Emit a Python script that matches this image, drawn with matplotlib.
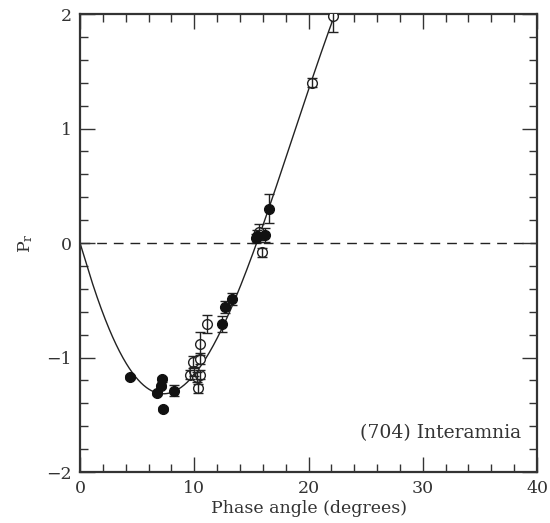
import numpy as np
import matplotlib
matplotlib.use("Agg")
import matplotlib.pyplot as plt

plt.rcParams['font.family'] = ['DejaVu Serif']
plt.rcParams['mathtext.fontset'] = 'dejavuserif'

# polarimetric observations of (704) Interamnia: phase angle, P_r, error
filled_alpha = [4.4, 6.7, 7.2, 7.1, 7.3, 8.2, 12.4, 12.7, 13.3, 15.4, 15.5, 16.2, 16.5]
filled_pr = [-1.17, -1.31, -1.19, -1.25, -1.45, -1.29, -0.71, -0.56, -0.49, 0.04, 0.06, 0.07, 0.30]
filled_err = [0.02, 0.02, 0.02, 0.02, 0.02, 0.05, 0.07, 0.05, 0.05, 0.04, 0.05, 0.06, 0.125]

open_alpha = [9.6, 9.9, 10.0, 10.2, 10.5, 10.3, 10.5, 10.5, 11.1, 15.7, 15.9, 20.3, 22.1]
open_pr = [-1.15, -1.04, -1.12, -1.17, -1.15, -1.27, -1.01, -0.88, -0.71, 0.10, -0.08, 1.40, 1.98]
open_err = [0.04, 0.05, 0.04, 0.04, 0.04, 0.04, 0.05, 0.10, 0.08, 0.07, 0.04, 0.04, 0.14]

# phase-polarization fit: b sin^c1(a) cos^c2(a/2) sin(a - a0)
fit_b = 81.0
fit_c1 = 1.02
fit_c2 = 30.8
fit_a0 = 15.46

label = "(704) Interamnia"


def phase_curve(a):
    r = np.radians(a)
    return (fit_b * np.sin(r) ** fit_c1 * np.cos(r / 2) ** fit_c2
            * np.sin(r - np.radians(fit_a0)))


fig = plt.figure(figsize=(5.5, 5.23), dpi=100)
ax = fig.add_axes([0.1455, 0.0975, 0.8309, 0.8757])

ax.axhline(0, color='#222222', lw=1.0, dashes=(7, 5), zorder=1)

a = np.linspace(0, 25, 500)
ax.plot(a, phase_curve(a), color='#222222', lw=1.0, zorder=2)

# open circles: bar drawn over the marker so it shows through
ax.plot(open_alpha, open_pr, 'o', ms=7, mfc='white', mec='#222222',
        mew=1.0, zorder=3)
ax.errorbar(open_alpha, open_pr, yerr=open_err, fmt='none', ecolor='#222222',
            elinewidth=1.0, capsize=3.6, capthick=1.0, zorder=4)
ax.errorbar(filled_alpha, filled_pr, yerr=filled_err, fmt='o', ms=7,
            mfc='#111111', mec='#111111', ecolor='#222222',
            elinewidth=1.0, capsize=3.6, capthick=1.0, zorder=5)

ax.set_xlim(0, 40)
ax.set_ylim(-2, 2)
ax.set_xticks([0, 10, 20, 30, 40])
ax.set_xticks(np.arange(0, 41, 2), minor=True)
ax.set_yticks([-2, -1, 0, 1, 2])
ax.set_yticks(np.arange(-2, 2.01, 0.2), minor=True)
ax.set_yticklabels(['\u22122', '\u22121', '0', '1', '2'])

ax.tick_params(which='both', direction='in', top=True, right=True,
               width=1.0, colors='#333333', labelsize=12.5, labelcolor='#333333')
ax.tick_params(which='major', length=11, pad=6)
ax.tick_params(which='minor', length=6)
for s in ax.spines.values():
    s.set_linewidth(1.6)
    s.set_color('#333333')

ax.set_xlabel('Phase angle (degrees)', fontsize=12.5, color='#333333', labelpad=2)
ax.set_ylabel(r'P$_{\rm r}$', fontsize=12.5, color='#333333', labelpad=8)

ax.text(38.6, -1.66, label, ha='right', va='center', fontsize=13.5, color='#333333')

fig.savefig('out.png', dpi=100)
